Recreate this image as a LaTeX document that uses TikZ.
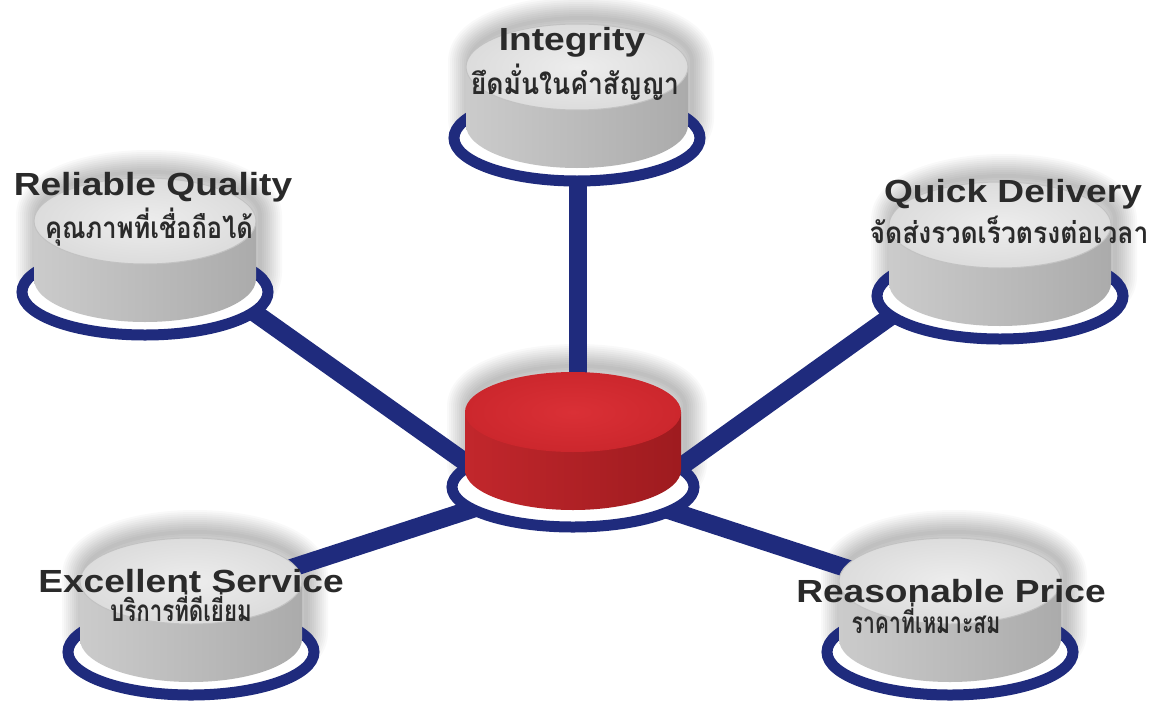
\documentclass[tikz,border=0pt]{standalone}
\usepackage{fontspec}
\newfontfamily\enfont{Liberation Sans}[FakeStretch=1.16]
\newfontfamily\thaifont[Script=Thai]{Loma}
\definecolor{navy}{HTML}{1F2B7D}
\definecolor{sideL}{HTML}{CBCBCB}
\definecolor{sideM}{HTML}{BDBDBD}
\definecolor{sideR}{HTML}{ABABAB}
\definecolor{topI}{HTML}{EDEDED}
\definecolor{topO}{HTML}{DCDCDC}
\definecolor{topRim}{HTML}{C2C2C2}
\definecolor{redTopI}{HTML}{DA3036}
\definecolor{redTopO}{HTML}{CC272D}
\definecolor{redSideL}{HTML}{C2272C}
\definecolor{redSideR}{HTML}{9E1B1F}
\definecolor{entxt}{HTML}{2A2A2A}
\definecolor{thtxt}{HTML}{2A2A2A}
\tikzset{
  spoke/.style={draw=navy, line width=18pt},
  ringline/.style={fill=white, draw=navy, line width=11pt},
  entext/.style={font={\enfont\bfseries\fontsize{32pt}{32pt}\selectfont}, text=entxt, anchor=base, inner sep=0pt},
  thtext/.style={font={\thaifont\bfseries\fontsize{26.5pt}{26.5pt}\selectfont}, text=thtxt, anchor=base, inner sep=0pt},
  halo/.style={draw=black, line join=round, opacity=0.024},
}
\newcommand\ThaiBox[2][1]{\scalebox{#1}[1.12]{#2}}
% silhouettes (relative to ring centre)
\newcommand\GSil{(-111,-71) -- (-111,-13) arc[start angle=180, end angle=0, x radius=111, y radius=43] -- (111,-71) arc[start angle=0, end angle=-180, x radius=111, y radius=43] -- cycle}
\newcommand\RSil{(-108,-75) -- (-108,-17) arc[start angle=180, end angle=0, x radius=108, y radius=40] -- (108,-75) arc[start angle=0, end angle=-180, x radius=108, y radius=40] -- cycle}
\newcommand\Halo[2]{% #1 centre, #2 silhouette
\begin{scope}[shift={(#1)}, xshift=4pt, yshift=6pt]
  \foreach \w in {4,8,...,44}{\path[halo, line width=\w pt] #2;}
\end{scope}}
\newcommand\GDisc[1]{%
\begin{scope}[shift={(#1)}]
  \path[ringline] (0,0) ellipse[x radius=123, y radius=43];
  \shade[left color=sideL, middle color=sideM, right color=sideR] (-111,-71) -- (-111,-13) arc[start angle=180, end angle=0, x radius=111, y radius=43] -- (111,-71) -- cycle;
  \shadedraw[inner color=topI, outer color=topO, draw=topRim, line width=1pt] (0,-71) ellipse[x radius=111, y radius=43];
\end{scope}}
\newcommand\RDisc[1]{%
\begin{scope}[shift={(#1)}]
  \path[ringline] (0,0) ellipse[x radius=121, y radius=40];
  \shade[left color=redSideL, right color=redSideR] (-108,-75) -- (-108,-17) arc[start angle=180, end angle=0, x radius=108, y radius=40] -- (108,-75) -- cycle;
  \shade[inner color=redTopI, outer color=redTopO] (0,-75) ellipse[x radius=108, y radius=40];
\end{scope}}
\begin{document}
\begin{tikzpicture}[x=1pt, y=-1pt]
\useasboundingbox (0,0) rectangle (1155,704);
\fill[white] (0,0) rectangle (1155,704);
% ring centres
\coordinate (ctr) at (573,487);
\coordinate (integ) at (577,138);
\coordinate (relq) at (145,292);
\coordinate (quick) at (1000,296);
\coordinate (excel) at (191,652);
\coordinate (price) at (950,652);
% spoke ends
\coordinate (s-integ) at (578,150);
\coordinate (c-integ) at (578,430);
\coordinate (s-relq) at (200,274);
\coordinate (c-relq) at (520,501);
\coordinate (s-quick) at (950,274);
\coordinate (c-quick) at (630,503);
\coordinate (s-excel) at (190,601);
\coordinate (c-excel) at (540,487);
\coordinate (s-price) at (950,602);
\coordinate (c-price) at (610,491);
% soft shadows
\Halo{integ}{\GSil}
\Halo{relq}{\GSil}
\Halo{quick}{\GSil}
\Halo{excel}{\GSil}
\Halo{price}{\GSil}
\Halo{ctr}{\RSil}
% spokes
\draw[spoke] (c-integ) -- (s-integ);
\draw[spoke] (c-relq) -- (s-relq);
\draw[spoke] (c-quick) -- (s-quick);
\draw[spoke] (c-excel) -- (s-excel);
\draw[spoke] (c-price) -- (s-price);
% discs
\GDisc{integ}
\GDisc{relq}
\GDisc{quick}
\GDisc{excel}
\GDisc{price}
\RDisc{ctr}
% texts
\node[entext] (t-integ) at (572,50) {Integrity};
\node[thtext] (h-integ) at (575,94) {\ThaiBox{ยึดมั่นในคำสัญญา}};
\node[entext] (t-relq) at (153,195) {Reliable Quality};
\node[thtext] (h-relq) at (149,238) {\ThaiBox[0.96]{คุณภาพที่เชื่อถือได้}};
\node[entext] (t-quick) at (1013,202) {Quick Delivery};
\node[thtext] (h-quick) at (1009,243) {\ThaiBox{จัดส่งรวดเร็วตรงต่อเวลา}};
\node[entext] (t-excel) at (191,592) {Excellent Service};
\node[thtext] (h-excel) at (181,621) {\ThaiBox[0.84]{บริการที่ดีเยี่ยม}};
\node[entext] (t-price) at (951,602) {Reasonable Price};
\node[thtext] (h-price) at (926,633) {\ThaiBox[0.8]{ราคาที่เหมาะสม}};
\end{tikzpicture}
\end{document}
